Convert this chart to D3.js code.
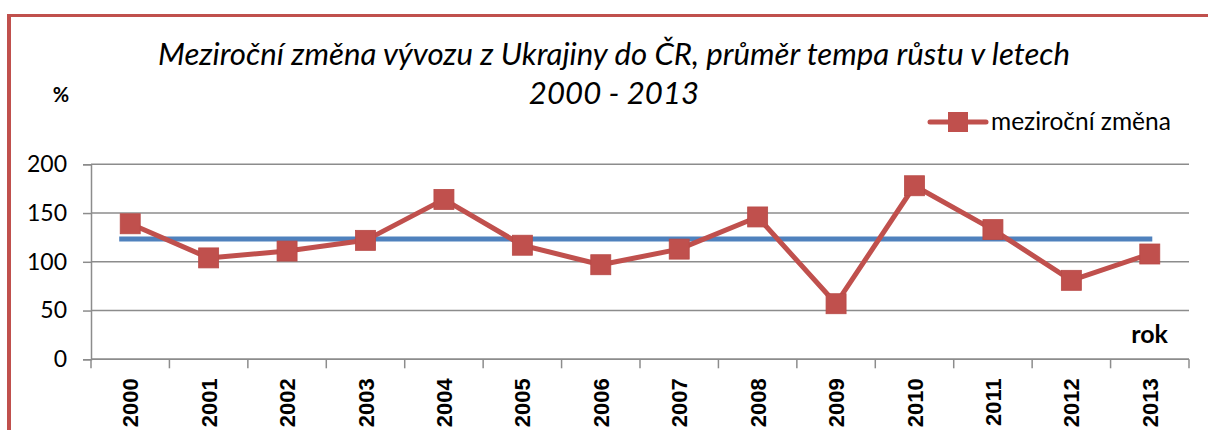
<!DOCTYPE html>
<html>
<head>
<meta charset="utf-8">
<script src="https://cdn.jsdelivr.net/npm/d3@7"></script>
<style>
  body { margin: 0; background: #fff; }
  svg { display: block; }
</style>
</head>
<body>
<div id="chart"></div>
<script>
const years = ["2000", "2001", "2002", "2003", "2004", "2005", "2006",
               "2007", "2008", "2009", "2010", "2011", "2012", "2013"];
const zmena = [139, 104, 111, 122, 164, 117, 97, 113, 146, 57, 178, 133, 81, 108];
const prumer = 123.5;
const yTicks = [0, 50, 100, 150, 200];
const titleLines = ["Meziroční změna vývozu z Ukrajiny do ČR, průměr tempa růstu v letech",
                    "2000 - 2013"];

const W = 1208, H = 430;
const red = "#C0504D", blue = "#4F81BD", gridC = "#8c8c8c";
const calibri = "Lato, 'Open Sans', sans-serif";

const svg = d3.select("#chart").append("svg")
    .attr("width", W)
    .attr("height", H);

// frame (only top and left visible)
svg.append("line")
    .attr("x1", 7).attr("y1", 15.5).attr("x2", W).attr("y2", 15.5)
    .attr("stroke", red).attr("stroke-width", 3);
svg.append("line")
    .attr("x1", 9).attr("y1", 14).attr("x2", 9).attr("y2", H)
    .attr("stroke", red).attr("stroke-width", 4);

const plot = { left: 91, right: 1189, top: 164.3, bottom: 359.3 };

const x = d3.scaleBand()
    .domain(years)
    .range([plot.left, plot.right])
    .padding(0);

const y = d3.scaleLinear()
    .domain([0, 200])
    .range([plot.bottom, plot.top]);

// gridlines
svg.append("g")
    .selectAll("line")
    .data(yTicks)
    .join("line")
    .attr("x1", plot.left).attr("x2", plot.right)
    .attr("y1", d => y(d)).attr("y2", d => y(d))
    .attr("stroke", gridC)
    .attr("stroke-width", 1.5);

// y axis
const yAxis = svg.append("g")
    .attr("transform", `translate(${plot.left},0)`)
    .call(d3.axisLeft(y).tickValues(yTicks).tickSize(8).tickPadding(16));
yAxis.select(".domain").attr("stroke", gridC).attr("stroke-width", 1.5);
yAxis.selectAll(".tick line").attr("stroke", gridC).attr("stroke-width", 1.5);
yAxis.selectAll(".tick text")
    .attr("font-family", calibri)
    .attr("font-size", 23)
    .attr("fill", "#000");

// x axis: ticks between categories
const xAxis = svg.append("g")
    .attr("transform", `translate(0,${plot.bottom})`);
xAxis.append("line")
    .attr("x1", plot.left).attr("x2", plot.right)
    .attr("stroke", gridC).attr("stroke-width", 1.5);
xAxis.selectAll(".xt")
    .data(years.map(d => x(d)).concat([plot.right]))
    .join("line")
    .attr("class", "xt")
    .attr("x1", d => d).attr("x2", d => d)
    .attr("y1", 0).attr("y2", 9)
    .attr("stroke", gridC).attr("stroke-width", 1.5);
xAxis.selectAll(".xl")
    .data(years)
    .join("text")
    .attr("class", "xl")
    .attr("transform", d => `translate(${x(d) + x.bandwidth() / 2 + 8},19) rotate(-90)`)
    .attr("text-anchor", "end")
    .attr("font-family", "'Liberation Sans', Arial, sans-serif")
    .attr("font-weight", "bold")
    .attr("font-size", 22)
    .text(d => d);

// average line (slightly offset like the original secondary series)
const xAvg = d3.scalePoint()
    .domain(years)
    .range([x(years[0]) + x.bandwidth() / 2 - 11, x(years[years.length - 1]) + x.bandwidth() / 2 + 2.5]);
svg.append("path")
    .datum(years)
    .attr("fill", "none")
    .attr("stroke", blue)
    .attr("stroke-width", 5)
    .attr("d", d3.line().x(d => xAvg(d)).y(() => y(prumer)));

// data line
const cx = d => x(d) + x.bandwidth() / 2;
svg.append("path")
    .datum(zmena)
    .attr("fill", "none")
    .attr("stroke", red)
    .attr("stroke-width", 5)
    .attr("stroke-linejoin", "round")
    .attr("d", d3.line().x((d, i) => cx(years[i])).y(d => y(d)));

const ms = 20;
svg.append("g")
    .selectAll("rect")
    .data(zmena)
    .join("rect")
    .attr("x", (d, i) => cx(years[i]) - ms / 2)
    .attr("y", d => y(d) - ms / 2)
    .attr("width", ms).attr("height", ms)
    .attr("fill", red)
    .attr("stroke", "#b84a47")
    .attr("stroke-width", 0.8);

// title
svg.append("g")
    .selectAll("text")
    .data(titleLines)
    .join("text")
    .attr("x", 614)
    .attr("y", (d, i) => 65 + i * 39)
    .attr("text-anchor", "middle")
    .attr("font-family", calibri)
    .attr("font-style", "italic")
    .attr("font-size", 31.2)
    .attr("fill", "#000")
    .text(d => d);

// axis titles
svg.append("text")
    .attr("x", 61).attr("y", 102)
    .attr("text-anchor", "middle")
    .attr("font-family", calibri)
    .attr("font-weight", "bold")
    .attr("font-size", 20)
    .text("%");

svg.append("text")
    .attr("x", 1168).attr("y", 343)
    .attr("text-anchor", "end")
    .attr("font-family", calibri)
    .attr("font-weight", "bold")
    .attr("font-size", 25)
    .text("rok");

// legend
const lg = svg.append("g").attr("transform", "translate(930,122)");
lg.append("line")
    .attr("x1", 0).attr("x2", 56)
    .attr("stroke", red).attr("stroke-width", 5).attr("stroke-linecap", "round");
lg.append("rect")
    .attr("x", 28 - ms / 2).attr("y", -ms / 2)
    .attr("width", ms).attr("height", ms)
    .attr("fill", red);
lg.append("text")
    .attr("x", 61).attr("y", 8)
    .attr("font-family", calibri)
    .attr("font-size", 24.5)
    .text("meziroční změna");
</script>
</body>
</html>
